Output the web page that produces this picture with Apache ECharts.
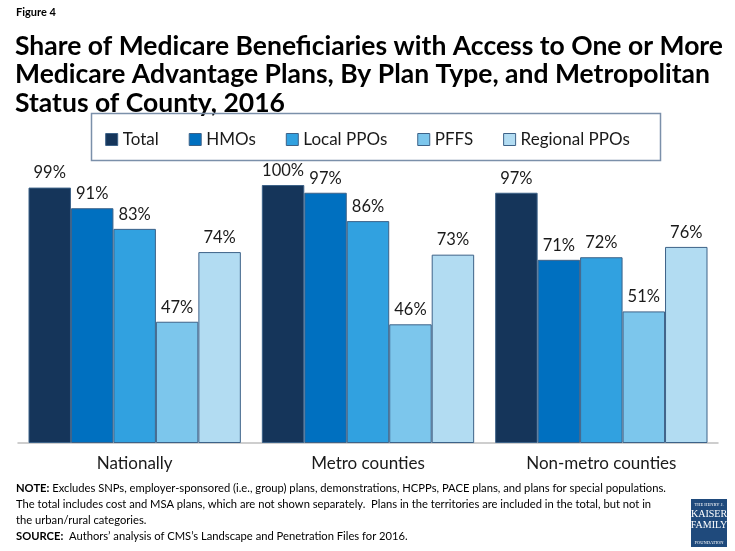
<!DOCTYPE html>
<html>
<head>
<meta charset="utf-8">
<script src="https://cdn.jsdelivr.net/npm/echarts@6/dist/echarts.min.js"></script>
<style>
	html, body { margin: 0; padding: 0; background: #fff; }
	#chart { width: 735px; height: 551px; }
</style>
</head>
<body>
<div id="chart"></div>
<script>
// categories and series
var categories = ['Nationally', 'Metro counties', 'Non-metro counties'];
var seriesNames = ['Total', 'HMOs', 'Local PPOs', 'PFFS', 'Regional PPOs'];
var totalVals = [99, 100, 97];
var hmoVals = [91, 97, 71];
var localPpoVals = [83, 86, 72];
var pffsVals = [47, 46, 51];
var regionalPpoVals = [74, 73, 76];
var colors = ['#15355a', '#0070c0', '#31a1e0', '#7cc6ec', '#b2dcf2'];

var FONT = 'Lato, "Liberation Sans", sans-serif';

var chart = echarts.init(document.getElementById('chart'));

var allVals = [totalVals, hmoVals, localPpoVals, pffsVals, regionalPpoVals];
var series = [];
for (var i = 0; i < seriesNames.length; i++) {
	series.push({
		name: seriesNames[i],
		type: 'bar',
		data: allVals[i],
		barGap: 0,
		barCategoryGap: '9%',
		itemStyle: { color: colors[i], borderColor: '#3d6288', borderWidth: 1 },
		label: {
			show: true,
			position: 'top',
			distance: 6,
			formatter: '{c}%',
			fontFamily: FONT,
			fontSize: 16.5,
			color: '#1a1a1a'
		}
	});
}

var option = {
	animation: false,
	color: colors,
	grid: { left: 18, right: 17, top: 185, bottom: 108 },
	legend: {
		top: 126,
		left: 'center',
		itemWidth: 12,
		itemHeight: 12,
		itemGap: 30,
		icon: 'rect',
		textStyle: { fontFamily: FONT, fontSize: 17, color: '#1a1a1a' },
		data: seriesNames.map(function (n) {
			return { name: n, itemStyle: { borderColor: '#3d6288', borderWidth: 1 } };
		})
	},
	xAxis: {
		type: 'category',
		data: categories,
		axisLine: { lineStyle: { color: '#bfbfbf', width: 1.5 } },
		axisTick: { show: false },
		axisLabel: { fontFamily: FONT, fontSize: 17, color: '#1a1a1a', margin: 12 }
	},
	yAxis: {
		type: 'value',
		min: 0,
		max: 100,
		show: false
	},
	graphic: [
		{ type: 'text', left: 16, top: 7, style: { text: 'Figure 4', font: 'bold 11px ' + FONT, fill: '#000' } },
		{ type: 'text', left: 15, top: 32, style: {
			text: 'Share of Medicare Beneficiaries with Access to One or More\nMedicare Advantage Plans, By Plan Type, and Metropolitan\nStatus of County, 2016',
			font: 'bold 26.5px ' + FONT, lineHeight: 28.5, fill: '#000' } },
		{ type: 'rect', shape: { x: 91.5, y: 113.5, width: 569, height: 47 },
			style: { fill: 'none', stroke: '#7b90aa', lineWidth: 1.5 } },
		{ type: 'text', left: 16, top: 480, style: {
			rich: {
				b: { font: 'bold 11.2px ' + FONT, fill: '#000' },
				n: { font: '11.2px ' + FONT, fill: '#000' }
			},
			lineHeight: 16,
			text: '{b|NOTE:}{n| Excludes SNPs, employer-sponsored (i.e., group) plans, demonstrations, HCPPs, PACE plans, and plans for special populations.}\n' +
				'{n|The total includes cost and MSA plans, which are not shown separately.  Plans in the territories are included in the total, but not in}\n' +
				'{n|the urban/rural categories.}\n' +
				'{b|SOURCE:}{n|  Authors\u2019 analysis of CMS\u2019s Landscape and Penetration Files for 2016.}'
		} },
		{ type: 'rect', shape: { x: 691, y: 499, width: 36, height: 48 }, style: { fill: '#1f4a7c' } },
		{ type: 'text', x: 709, y: 502, style: {
			text: 'THE HENRY J.', font: '4.5px "Liberation Serif", serif', fill: '#fff', align: 'center' } },
		{ type: 'text', x: 709, y: 509, style: {
			text: 'KAISER\nFAMILY', font: '10px "Liberation Serif", serif', lineHeight: 11, fill: '#fff', align: 'center' } },
		{ type: 'text', x: 709, y: 540, style: {
			text: 'FOUNDATION', font: '4.5px "Liberation Serif", serif', fill: '#fff', align: 'center' } }
	],
	series: series
};

chart.setOption(option);
</script>
</body>
</html>
